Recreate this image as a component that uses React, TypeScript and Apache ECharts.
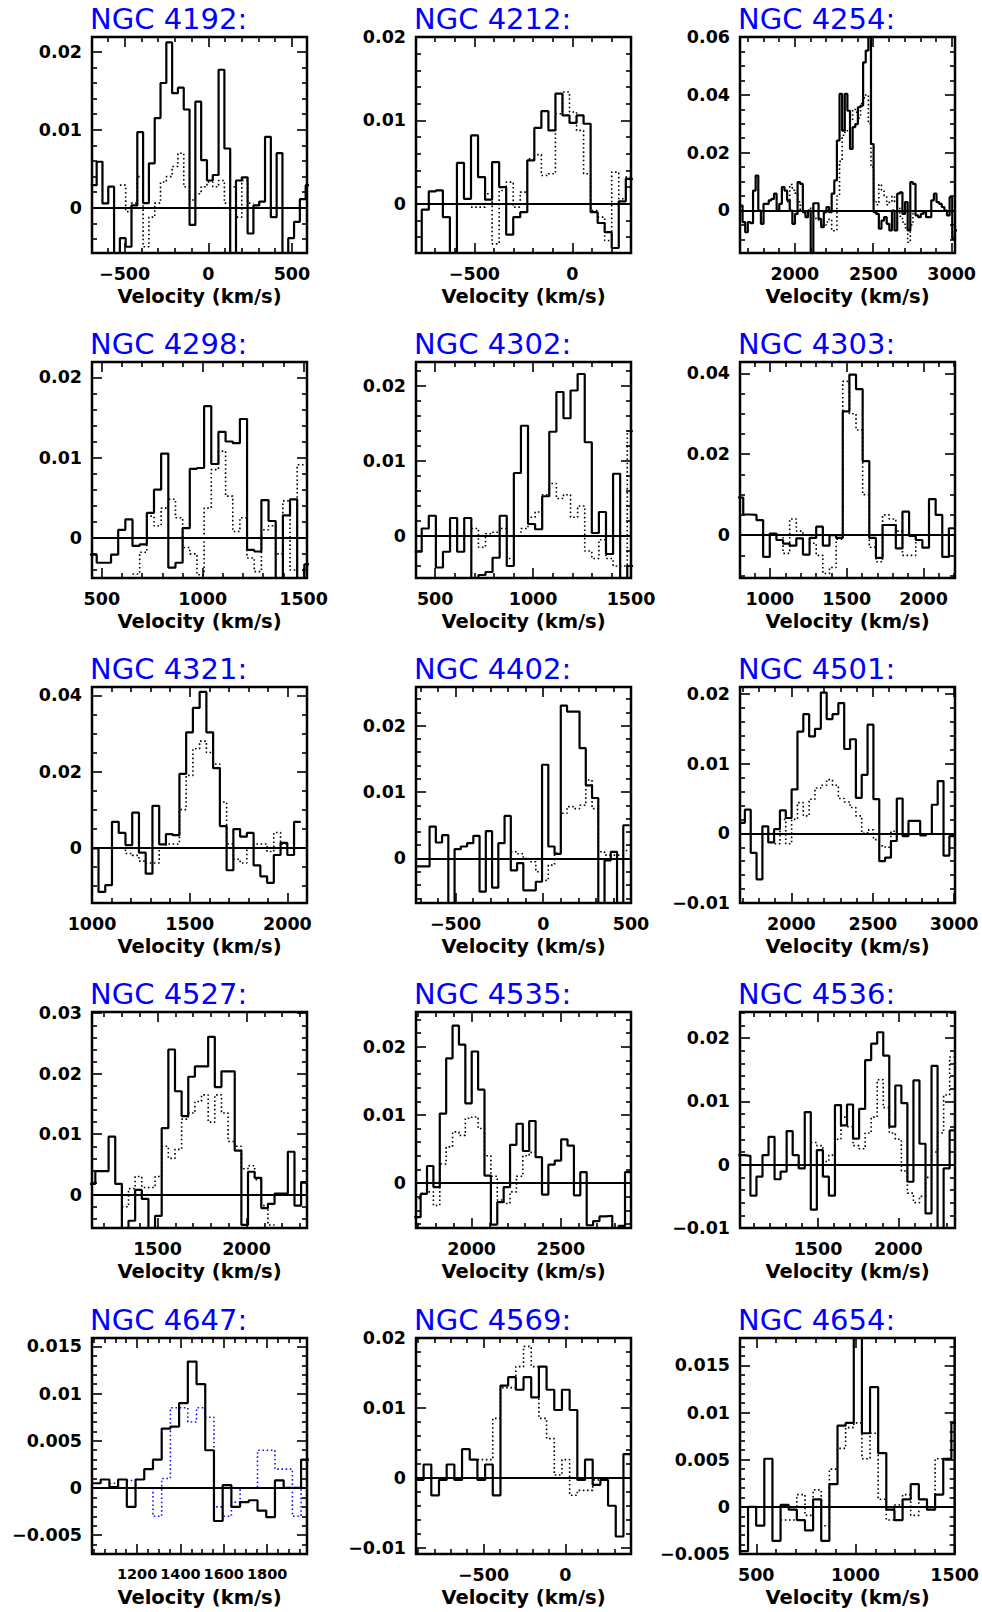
import React, { useEffect, useRef } from 'react';
import * as echarts from 'echarts';

// ---------------- data (flux density vs velocity, channel grids) ----------------
const galaxyNames = [
  'NGC 4192:', 'NGC 4212:', 'NGC 4254:',
  'NGC 4298:', 'NGC 4302:', 'NGC 4303:',
  'NGC 4321:', 'NGC 4402:', 'NGC 4501:',
  'NGC 4527:', 'NGC 4535:', 'NGC 4536:',
  'NGC 4647:', 'NGC 4569:', 'NGC 4654:',
];

const s4192 = [0.0029, 0.0059, 0.00056, 0.0027, -0.008, -0.0039, -0.005, 0.0003, 0.0097, 0.0006, 0.0057, 0.0115, 0.016, 0.0212, 0.0147, 0.0154, 0.0126, -0.0022, 0.0136, 0.0061, 0.0035, 0.0042, 0.0177, 0.0076, -0.008, 0.0035, 0.0039, -0.0033, 0.0003, 0.0008, 0.0091, -0.0012, 0.007, -0.008, -0.0039, -0.0018, 0.0011, 0.0029];
const d4192 = [0.0029, -0.0005, 0.0006, 0.004, -0.005, -0.0012, 0.0006, 0.0033, 0.004, 0.0053, 0.007, 0.0027, 0.001, 0.0018, 0.0027, 0.0033, 0.0027, 0.0035, 0.0006, 0.0027, -0.0012, 0.0035, 0.0006];

const s4212 = [-0.007, -0.0007, 0.0015, 0.0016, -0.0016, -0.007, 0.0049, 0.0006, 0.0082, 0.0032, 0.0005, 0.005, 0.002, -0.0037, -0.0016, -0.001, 0.0052, 0.0091, 0.0111, 0.0088, 0.0132, 0.0106, 0.0097, 0.0106, 0.0096, -0.001, -0.0023, -0.0034, -0.0053, 0.0003, 0.003];
const d4212 = [-0.0004, -0.0004, 0.0012, -0.0048, 0.0016, 0.0026, -0.0004, 0.0014, 0.0054, 0.0059, 0.0034, 0.0036, 0.0108, 0.0134, 0.011, 0.0088, 0.0036, -0.0008, -0.0016, -0.0044, 0.0038, 0.0006, 0.0032];

const s4254 = [0.0017, -0.004, -0.0075, -0.004, -0.0044, 0.0069, 0.0121, 0, -0.0046, 0.0023, 0.0023, 0.0035, 0.004, 0.0058, 0, 0.0023, 0.0081, 0.0069, 0.0035, 0, -0.0046, -0.0012, 0.0098, 0.0092, -0.0006, -0.0023, 0, -0.016, 0.0025, 0.0025, -0.0029, -0.0058, -0.0006, 0.0012, -0.0006, 0.0058, 0.0104, 0.0242, 0.0403, 0.0276, 0.0403, 0.0345, 0.0213, 0.0288, 0.0299, 0.0357, 0.0363, 0.0512, 0.0553, 0.065, 0.023, -0.0006, -0.0012, -0.0063, -0.0035, -0.0023, -0.0046, -0.0069, 0, -0.0069, 0.0058, 0.0063, -0.0012, 0.0029, -0.0069, 0.0098, 0.0092, -0.0017, -0.0023, -0.0012, -0.0006, -0.0023, -0.0023, 0.0035, 0.0058, 0.0029, 0.0023, 0.0012, 0, -0.0017, 0.0046, -0.0098, -0.0069];
const d4254 = [0.003, 0.009, 0.007, 0.006, 0.003, 0.0, -0.001, -0.002, 0.0, 0.001, -0.002, -0.003, -0.004, -0.005, -0.005, -0.004, -0.003, -0.007, -0.007, 0.005, 0.017, 0.026, 0.027, 0.028, 0.031, 0.035, 0.034, 0.032, 0.037, 0.039, 0.04, 0.03, 0.015, 0.003, 0.002, 0.009, 0.007, 0.005, 0.002, 0.003, 0.005, 0.003, 0.001, -0.002, -0.004, -0.006, -0.011, -0.005, -0.001];

const s4298 = [-0.0021, -0.0031, -0.0031, -0.0021, 0.001, 0.0023, -0.001, -0.0008, 0.0031, 0.006, 0.0105, -0.0037, -0.0031, 0.0012, 0.0086, 0.0087, 0.0164, 0.0092, 0.0132, 0.012, 0.0118, 0.0148, -0.0015, -0.0017, 0.0047, 0.0021, -0.007, 0.0028, 0.0048, -0.007, -0.0033];
const d4298 = [-0.0045, -0.0018, 0.0027, 0.0015, 0.0037, 0.0048, 0.0025, -0.0012, -0.002, -0.0046, 0.0037, 0.0085, 0.0108, 0.0052, 0.0008, 0.0025, -0.0025, -0.0042, 0.001, 0.0015, -0.002, 0.0046, -0.004, 0.0091, 0.0091];

const s4302 = [-0.0021, 0.001, 0.0027, -0.0042, -0.0021, 0.0024, -0.0021, 0.0024, -0.007, -0.0052, -0.0048, -0.0029, 0.0027, -0.004, 0.0084, 0.0147, 0.0016, 0.0009, 0.0053, 0.0139, 0.0192, 0.0157, 0.0194, 0.0216, 0.0125, 0.0004, 0.0032, -0.0024, 0.0083, -0.007, -0.004];
const d4302 = [0.001, -0.0015, 0.0003, 0.0005, 0.001, -0.003, 0.0, 0.001, 0.0025, 0.0032, 0.0055, 0.007, 0.005, 0.0055, 0.0025, 0.004, -0.002, -0.003, -0.0005, -0.003, -0.004, -0.004, 0.014];

const s4303 = [0.0093, 0.0051, 0.005, 0.0037, -0.0054, 0.0004, -0.0012, -0.0021, -0.0026, -0.0008, -0.0048, -0.0007, 0.0021, -0.0026, 0, -0.0007, 0.0306, 0.0397, 0.0361, 0.0183, -0.0007, -0.0056, 0.0025, 0.0025, -0.0033, 0.0058, -0.0002, -0.0012, -0.0031, 0.0089, 0.005, -0.0054, 0.0017];
const d4303 = [0.0, -0.0045, 0.004, 0.001, 0.0, -0.002, -0.005, -0.0095, -0.008, -0.001, 0.038, 0.03, 0.026, 0.01, -0.003, -0.0066, 0.005, 0.004, 0.001, -0.005, -0.005, 0.0];

const s4321 = [-0.0002, -0.0116, -0.0098, 0.0068, 0.0039, 0.0007, 0.0092, -0.0013, -0.0068, 0.011, 0.0009, 0.0036, 0.0033, 0.0194, 0.0303, 0.0367, 0.0409, 0.0303, 0.0209, 0.0057, -0.0059, 0.0049, 0.0029, 0.0039, -0.0046, -0.0075, -0.0092, -0.0019, 0.0013, -0.0019, 0.0068];
const d4321 = [0.0, -0.0015, -0.002, -0.0035, -0.004, -0.004, 0.0, 0.001, 0.001, 0.01, 0.019, 0.026, 0.028, 0.025, 0.022, 0.012, 0.001, -0.003, -0.004, 0.0, 0.001, 0.001, -0.001, 0.004, 0.001];

const s4402 = [-0.0012, -0.0012, 0.0048, 0.0024, 0.0035, -0.008, 0.0014, 0.0018, 0.0023, 0.0034, -0.005, 0.0041, -0.0044, 0.0023, 0.0064, -0.0018, -0.0007, -0.0048, -0.0048, -0.0035, 0.0141, 0.0018, 0.0007, 0.023, 0.0221, 0.0221, 0.0166, 0.011, 0.0091, -0.008, -0.0003, 0.001, -0.008, 0.005];
const d4402 = [0.001, 0.0007, 0.0, -0.0005, -0.002, -0.0033, -0.001, 0.0008, 0.0068, 0.0078, 0.0075, 0.008, 0.0118, 0.0075, 0.001, 0.0005, 0.0005, 0.0005, 0.0012];

const s4501 = [0.0015, 0.0034, -0.0028, -0.0066, 0.001, -0.0013, 0.0006, 0.0033, 0.0022, 0.0063, 0.0146, 0.0171, 0.0139, 0.015, 0.0202, 0.0164, 0.0171, 0.0187, 0.0121, 0.0135, 0.0051, 0.0084, 0.0156, 0.0049, -0.004, -0.0035, -0.0011, 0.005, -0.0004, 0.0018, 0.0018, -0.0003, -0.0001, 0.0041, 0.0075, -0.0032, -0.0004];
const d4501 = [0.0, -0.0015, 0.002, -0.0015, 0.002, 0.0044, 0.0025, 0.0049, 0.0065, 0.0069, 0.0077, 0.0069, 0.005, 0.0045, 0.0037, 0.0025, 0.0, 0.0005, -0.0009, -0.0018, -0.002, 0.0003, 0.005];

const s4527 = [0.0018, 0.0039, 0.0039, 0.0096, 0.0018, -0.007, -0.0043, 0.0008, -0.0007, -0.007, -0.0035, 0.011, 0.024, 0.0171, 0.013, 0.0195, 0.0212, 0.0212, 0.0261, 0.0178, 0.0204, 0.0204, 0.0073, -0.005, 0.0038, 0.0028, -0.0022, -0.0015, 0.0002, 0.0002, 0.0071, -0.0018, 0.0021];
const d4527 = [-0.002, 0.001, 0.003, 0.0012, 0.0012, 0.003, 0.008, 0.006, 0.0075, 0.0125, 0.0135, 0.0154, 0.0165, 0.012, 0.0165, 0.0135, 0.0088, 0.008, 0.0043, 0.0048, 0.0025, -0.0018, -0.005];

const s4535 = [-0.005, -0.0016, 0.0025, -0.0006, 0.0102, 0.0183, 0.0231, 0.0203, 0.0117, 0.0193, 0.0137, 0.0011, -0.0061, -0.0028, -0.0006, 0.0056, 0.0087, 0.0047, 0.0091, 0.0038, -0.0017, 0.0027, 0.0033, 0.0064, 0.0055, -0.0018, 0.0016, -0.0062, -0.0056, -0.0049, -0.0048, -0.007, -0.0063, 0.0016];
const d4535 = [-0.0023, -0.0015, -0.0013, -0.0033, 0.0028, 0.0053, 0.0075, 0.007, 0.0095, 0.0097, 0.008, 0.004, 0.001, -0.0025, -0.003, -0.0013, 0.001, 0.004, 0.0045];

const s4536 = [0.0015, 0.0014, -0.0049, -0.0019, 0.0015, 0.0044, -0.0023, -0.0011, 0.0053, 0.0015, -0.0006, 0.0083, -0.0071, 0.0023, -0.0019, -0.0049, 0.0094, 0.0062, 0.0095, 0.0041, 0.0088, 0.0165, 0.0191, 0.0209, 0.0172, 0.006, 0.0125, 0.0097, -0.0027, 0.0133, 0.0033, -0.0077, 0.0156, -0.011, -0.0006, 0.0054];
const d4536 = [0.0035, 0.003, 0.0005, 0.0015, 0.004, 0.0075, 0.006, 0.003, 0.0025, 0.005, 0.0075, 0.0134, 0.009, 0.005, 0.004, -0.001, -0.0045, -0.006, -0.005, -0.002, 0.002, 0.005, 0.011, 0.017];

const s4647 = [0.0005, 0.0009, 0.0001, 0.0009, -0.002, 0.0009, 0.002, 0.003, 0.0063, 0.0065, 0.009, 0.0134, 0.011, 0.004, -0.0035, 0.0003, -0.002, -0.0015, -0.0013, -0.0024, -0.0031, 0.0008, 0.0, 0.0, 0.003];
const d4647 = [0.0005, 0.0, 0.0008, 0.0, 0.0, -0.003, 0.001, 0.0085, 0.0085, 0.007, 0.0085, 0.0075, -0.002, -0.003, -0.0015, 0.0, 0.0, 0.004, 0.004, 0.002, 0.002, -0.003, 0.003];

const s4569 = [-0.0003, 0.0019, -0.0025, -0.0003, 0.0019, -0.0003, 0.0041, 0.0026, -0.0003, 0.0019, -0.0025, 0.0132, 0.0144, 0.0126, 0.0144, 0.0115, 0.0159, 0.0126, 0.0097, 0.0126, 0.0097, -0.0003, 0.0026, -0.001, -0.0003, -0.004, -0.0084, 0.0034];
const d4569 = [0.0026, 0.0026, 0.0085, 0.0129, 0.0129, 0.0159, 0.0188, 0.0159, 0.0085, 0.0056, 0.0004, 0.0026, -0.0025, -0.0018, -0.0018, -0.0003, -0.0003];

const s4654 = [-0.0047, 0, -0.002, 0.0051, -0.0036, 0.0002, -0.0003, -0.0014, -0.0025, 0.0008, -0.0036, 0.0024, 0.0086, 0.0089, 0.0182, 0.0078, 0.0127, 0.0057, -0.0003, -0.0014, 0.0008, 0.0024, 0.0008, -0.0003, 0.0013, 0.0051, 0.0089];
const d4654 = [-0.0014, -0.0014, 0.0013, -0.0009, 0.0018, -0.002, 0.004, 0.0062, 0.0084, 0.0089, 0.0051, 0.0078, 0.0008, -0.0014, 0.0002, 0.0013, -0.0009, 0.0008, -0.0003, 0.0051];

// axis ranges and labelled ticks
const xRanges: [number, number][] = [
  [-695, 590], [-798, 299], [1651, 3021],
  [451, 1517], [402, 1500], [805, 2205],
  [1000, 2100], [-725, 500], [1684, 3005],
  [1132, 2340], [1688, 2893], [1014, 2353],
  [992, 1984], [-912, 400], [418, 1500],
];
const yRanges: [number, number][] = [
  [-0.0058, 0.0219], [-0.0059, 0.02], [-0.0147, 0.06],
  [-0.005, 0.0219], [-0.0056, 0.0232], [-0.0106, 0.0428],
  [-0.0145, 0.0422], [-0.0067, 0.0258], [-0.01, 0.021],
  [-0.0055, 0.0302], [-0.0066, 0.0251], [-0.01, 0.0241],
  [-0.007, 0.0159], [-0.0109, 0.02], [-0.005, 0.0179],
];
const xTickLabels: number[][] = [
  [-500, 0, 500], [-500, 0], [2000, 2500, 3000],
  [500, 1000, 1500], [500, 1000, 1500], [1000, 1500, 2000],
  [1000, 1500, 2000], [-500, 0, 500], [2000, 2500, 3000],
  [1500, 2000], [2000, 2500], [1500, 2000],
  [1200, 1400, 1600, 1800], [-500, 0], [500, 1000, 1500],
];
const xMinorSteps = [100, 100, 100, 100, 100, 100, 100, 100, 100, 100, 100, 100, 50, 100, 100];
const yTickLabels: number[][] = [
  [0, 0.01, 0.02], [0, 0.01, 0.02], [0, 0.02, 0.04, 0.06],
  [0, 0.01, 0.02], [0, 0.01, 0.02], [0, 0.02, 0.04],
  [0, 0.02, 0.04], [0, 0.01, 0.02], [-0.01, 0, 0.01, 0.02],
  [0, 0.01, 0.02, 0.03], [0, 0.01, 0.02], [-0.01, 0, 0.01, 0.02],
  [-0.005, 0, 0.005, 0.01, 0.015], [-0.01, 0, 0.01, 0.02], [-0.005, 0, 0.005, 0.01, 0.015],
];
const yMinorSteps = [0.002, 0.002, 0.005, 0.002, 0.002, 0.005, 0.005, 0.002, 0.002, 0.002, 0.002, 0.002, 0.001, 0.002, 0.001];

// channel grids: [first channel centre, channel width] for solid and dotted spectra
const solidSpectra = [s4192, s4212, s4254, s4298, s4302, s4303, s4321, s4402, s4501, s4527, s4535, s4536, s4647, s4569, s4654];
const solidGrid: [number, number][] = [
  [-684.5, 34.7], [-786.6, 35.9], [1659, 16.7],
  [456.6, 35.5], [413, 36.2], [804.5, 43.2],
  [1016, 34.5], [-701, 35.6], [1696, 35.9],
  [1132, 37.3], [1696, 35.8], [1022.5, 37.6],
  [1012, 40.2], [-889, 46.9], [438, 41],
];
const dottedSpectra = [d4192, d4212, d4254, d4298, d4302, d4303, d4321, d4402, d4501, d4527, d4535, d4536, d4647, d4569, d4654];
const dottedGrid: [number, number][] = [
  [-511, 34.7], [-499.4, 35.9], [1959.6, 16.7],
  [669.6, 35.5], [702.6, 36.2], [1063.7, 43.2],
  [1154, 34.5], [-167, 35.6], [1875.5, 35.9],
  [1318.5, 37.3], [1696, 35.8], [1473.7, 37.6],
  [1092.4, 40.2], [-513.8, 46.9], [643, 41],
];

// ---------------- layout / style ----------------
const COLS = [92, 416, 740];
const ROWS = [37, 362, 687, 1012, 1338];
const PW = 215;
const PH = 216;
const NUM_FONT = 'DejaVu Sans';
const CROWDED_PANEL = 12; // panel whose x labels sit very close together

function fmt(v: number): string {
  if (v === 0) return '0';
  return (v < 0 ? '\u2212' : '') + String(Math.abs(v));
}

function minorList(min: number, max: number, step: number, majors: number[]): number[] {
  const out: number[] = [];
  const k0 = Math.ceil(min / step - 1e-9);
  const k1 = Math.floor(max / step + 1e-9);
  for (let k = k0; k <= k1; k++) {
    const v = +(k * step).toFixed(6);
    if (!majors.some((m) => Math.abs(m - v) < step * 1e-3)) out.push(v);
  }
  return out;
}

function stepData(vals: number[], v0: number, dv: number): number[][] {
  const pts = vals.map((v, i) => [v0 + (i - 0.5) * dv, v]);
  pts.push([v0 + (vals.length - 0.5) * dv, vals[vals.length - 1]]);
  return pts;
}

function buildOption() {
  const grids: any[] = [];
  const xAxes: any[] = [];
  const yAxes: any[] = [];
  const series: any[] = [];
  const graphics: any[] = [];

  for (let i = 0; i < 15; i++) {
    const col = i % 3;
    const row = Math.floor(i / 3);
    const left = COLS[col];
    const top = ROWS[row];
    grids.push({
      left, top, width: PW, height: PH,
      show: true, borderColor: '#000', borderWidth: 2.5, backgroundColor: 'transparent',
    });
    const [xmin, xmax] = xRanges[i];
    const [ymin, ymax] = yRanges[i];
    const xMaj = xTickLabels[i];
    const yMaj = yTickLabels[i];
    const xMin = minorList(xmin, xmax, xMinorSteps[i], xMaj);
    const yMin = minorList(ymin, ymax, yMinorSteps[i], yMaj);

    const xBase = {
      type: 'value', gridIndex: i, min: xmin, max: xmax,
      axisLine: { show: false, onZero: false }, splitLine: { show: false },
    };
    const yBase = {
      type: 'value', gridIndex: i, min: ymin, max: ymax,
      axisLine: { show: false, onZero: false }, splitLine: { show: false },
    };
    const tickMaj = (vals: number[]) => ({ show: true, inside: true, length: 10, lineStyle: { color: '#000', width: 1.6 }, customValues: vals });
    const tickMin = (vals: number[]) => ({ show: true, inside: true, length: 5, lineStyle: { color: '#000', width: 1.6 }, customValues: vals });
    const noLabel = { show: false };

    xAxes.push({
      ...xBase, position: 'bottom', axisTick: tickMaj(xMaj),
      axisLabel: {
        show: true, customValues: xMaj, formatter: fmt, margin: 12, hideOverlap: false,
        showMinLabel: true, showMaxLabel: true,
        color: '#000', fontFamily: NUM_FONT, fontWeight: 'bold',
        fontSize: i === CROWDED_PANEL ? 14.5 : 17.5,
      },
    });
    xAxes.push({ ...xBase, position: 'bottom', axisTick: tickMin(xMin), axisLabel: noLabel });
    xAxes.push({ ...xBase, position: 'top', axisTick: tickMaj(xMaj), axisLabel: noLabel });
    xAxes.push({ ...xBase, position: 'top', axisTick: tickMin(xMin), axisLabel: noLabel });

    yAxes.push({
      ...yBase, position: 'left', axisTick: tickMaj(yMaj),
      axisLabel: {
        show: true, customValues: yMaj, formatter: fmt, margin: 10, hideOverlap: false,
        showMinLabel: true, showMaxLabel: true,
        color: '#000', fontFamily: NUM_FONT, fontWeight: 'bold', fontSize: 17.5,
      },
    });
    yAxes.push({ ...yBase, position: 'left', axisTick: tickMin(yMin), axisLabel: noLabel });
    yAxes.push({ ...yBase, position: 'right', axisTick: tickMaj(yMaj), axisLabel: noLabel });
    yAxes.push({ ...yBase, position: 'right', axisTick: tickMin(yMin), axisLabel: noLabel });

    const [sv0, sdv] = solidGrid[i];
    const [dv0, ddv] = dottedGrid[i];
    series.push({
      type: 'line', xAxisIndex: i * 4, yAxisIndex: i * 4,
      data: stepData(dottedSpectra[i], dv0, ddv), step: 'end', symbol: 'none', clip: true,
      lineStyle: { color: i === CROWDED_PANEL ? '#1010ff' : '#000', width: 1.6, type: [1.6, 2.6] },
      z: 2,
    });
    series.push({
      type: 'line', xAxisIndex: i * 4, yAxisIndex: i * 4,
      data: stepData(solidSpectra[i], sv0, sdv), step: 'end', symbol: 'none', clip: true,
      lineStyle: { color: '#000', width: 2.2 },
      z: 3,
      markLine: {
        silent: true, symbol: ['none', 'none'], label: { show: false },
        lineStyle: { color: '#000', width: 2, type: 'solid' },
        data: [{ yAxis: 0 }],
      },
    });

    graphics.push({
      type: 'text', x: left - 2, y: top - 18,
      style: {
        text: galaxyNames[i], fill: '#0000ff', font: '29px "DejaVu Sans"',
        textAlign: 'left', textVerticalAlign: 'middle',
      },
    });
    graphics.push({
      type: 'text', x: left + PW / 2, y: top + PH + 43,
      style: {
        text: 'Velocity (km/s)', fill: '#000', font: 'bold 19.5px "DejaVu Sans"',
        textAlign: 'center', textVerticalAlign: 'middle',
      },
    });
  }

  return {
    animation: false,
    backgroundColor: '#fff',
    grid: grids,
    xAxis: xAxes,
    yAxis: yAxes,
    series,
    graphic: graphics,
  };
}

export default function App() {
  const ref = useRef<HTMLDivElement>(null);
  useEffect(() => {
    if (!ref.current) return;
    const chart = echarts.init(ref.current, undefined, { renderer: 'svg' });
    chart.setOption(buildOption() as any);
    return () => chart.dispose();
  }, []);
  return (
    <div
      ref={ref}
      style={{ position: 'absolute', left: 0, top: 0, width: 982, height: 1612, background: '#fff' }}
    />
  );
}
